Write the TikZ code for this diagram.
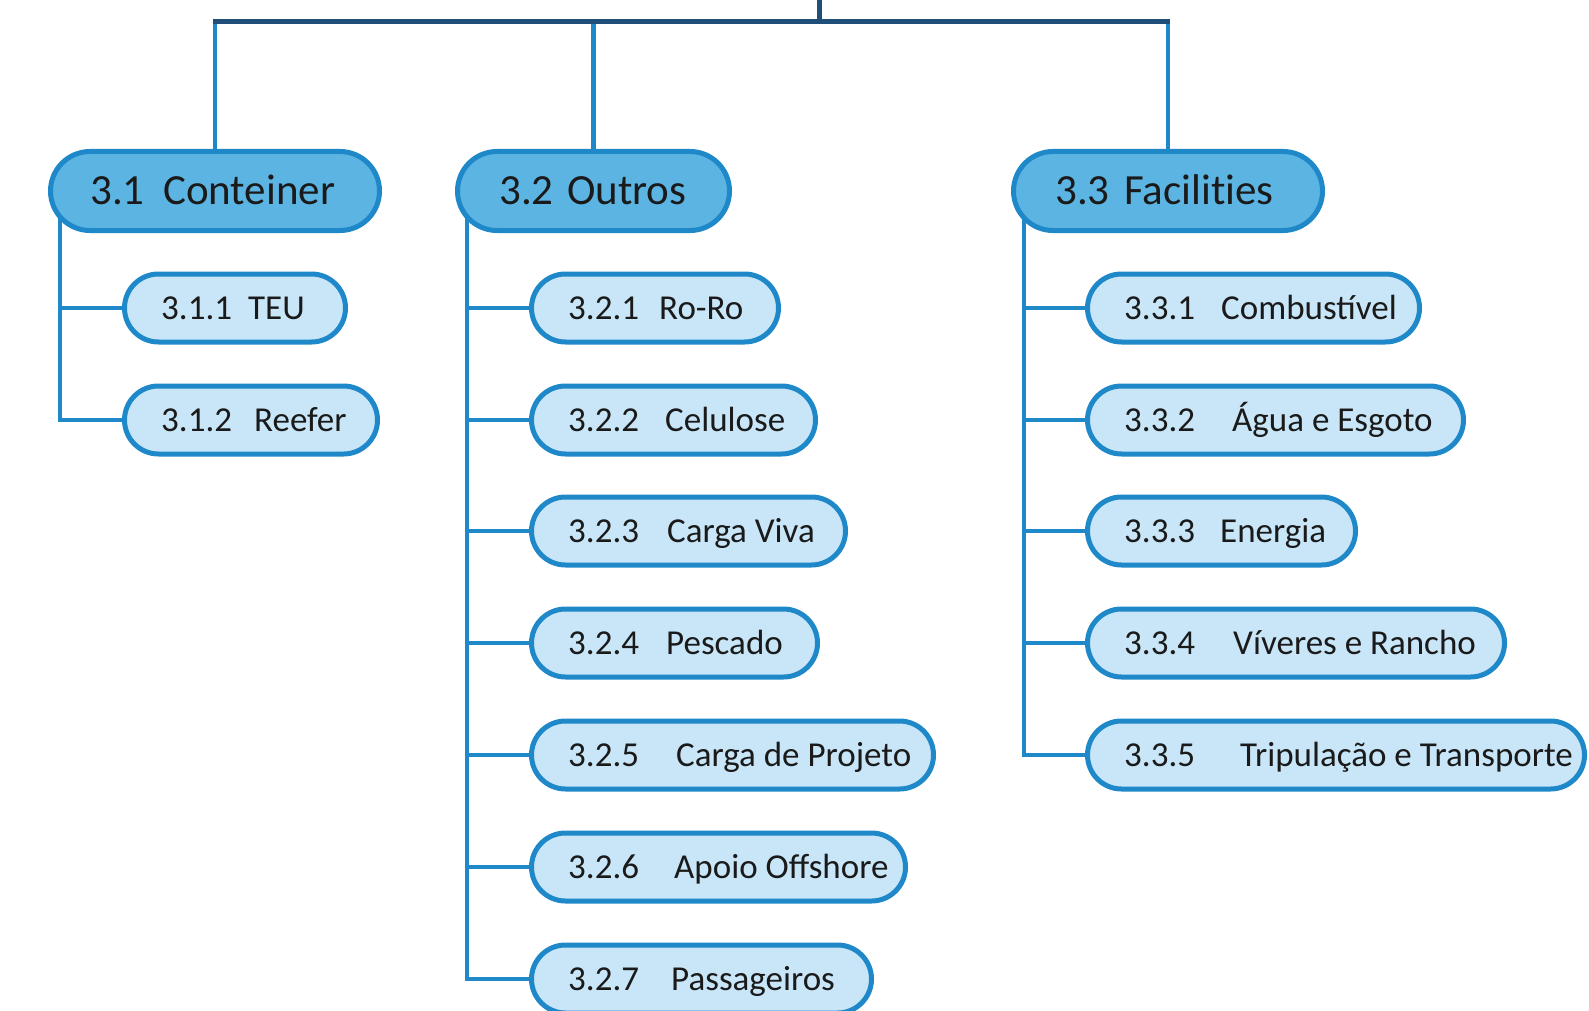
\documentclass[tikz,border=0pt]{standalone}
\usepackage{fontspec}
\setmainfont{Carlito}
\usetikzlibrary{backgrounds}
\definecolor{navy}{HTML}{1F4E79}
\definecolor{edgeblue}{HTML}{1E88C8}
\definecolor{topfill}{HTML}{5BB4E2}
\definecolor{leaffill}{HTML}{C8E6F8}
\definecolor{ink}{HTML}{1A1A1A}
\tikzset{
  topbox/.style={draw=edgeblue, line width=5pt, fill=topfill, rectangle, rounded corners=39.5pt, minimum height=79pt, inner sep=0pt},
  leafbox/.style={draw=edgeblue, line width=5pt, fill=leaffill, rectangle, rounded corners=34pt, minimum height=68pt, inner sep=0pt},
  toptxt/.style={anchor=west, inner sep=0pt, text=ink, font=\fontsize{43}{49}\selectfont, text height=27pt, text depth=0pt},
  leaftxt/.style={anchor=west, inner sep=0pt, text=ink, font=\fontsize{35}{40}\selectfont, text height=22pt, text depth=0pt},
  conn/.style={draw=edgeblue, line width=4.5pt},
  rootconn/.style={draw=navy, line width=5pt}
}
\newcommand\leafnode[7]{%
  \node[leafbox, minimum width=#4pt] (#1) at (#2,#3) {};
  \node[leaftxt] (#1num) at ([xshift=39pt]#1.west) {#5};
  \node[leaftxt] (#1lab) at ([xshift=#6pt]#1.west) {#7};
}
\newcommand\topnode[8]{%
  \node[topbox, minimum width=#4pt] (#1) at (#2,#3) {};
  \node[toptxt] (#1num) at ([xshift=#5pt]#1.west) {#6};
  \node[toptxt] (#1lab) at ([xshift=#7pt]#1.west) {#8};
}
\begin{document}
\begin{tikzpicture}[x=1pt,y=-1pt]
\useasboundingbox (0,0) rectangle (1589,1011);
% level 1
\topnode{n31}{215}{191}{329}{42}{3.1}{115}{Conteiner}
\topnode{n32}{593.5}{191}{272}{44}{3.2}{112}{Outros}
\topnode{n33}{1168}{191}{309}{44}{3.3}{113}{Facili\hbox{}t\hbox{}ies}
% level 2
\leafnode{n311}{235}{308}{221}{3.1.1}{126}{TEU}
\leafnode{n312}{251}{420}{253}{3.1.2}{132}{Reefer}
\leafnode{n321}{655}{308}{247}{3.2.1}{130}{Ro-Ro}
\leafnode{n322}{673.5}{420}{284}{3.2.2}{136}{Celulose}
\leafnode{n323}{688.5}{531}{314}{3.2.3}{138}{Carga Viva}
\leafnode{n324}{674.5}{643}{286}{3.2.4}{137}{Pescado}
\leafnode{n325}{732.5}{755}{402}{3.2.5}{147}{Carga de Projeto}
\leafnode{n326}{718.5}{867}{374}{3.2.6}{145}{Apoio Offshore}
\leafnode{n327}{701.5}{979}{340}{3.2.7}{142}{Passageiros}
\leafnode{n331}{1253.5}{308}{332}{3.3.1}{136}{Combustível}
\leafnode{n332}{1275.5}{420}{376}{3.3.2}{147}{Água e Esgoto}
\leafnode{n333}{1221.5}{531}{268}{3.3.3}{135}{Energia}
\leafnode{n334}{1296}{643}{417}{3.3.4}{148}{Víveres e Rancho}
\leafnode{n335}{1336}{755}{497}{3.3.5}{155}{Tripulação e Transporte}
% root connectors
\coordinate (root) at (819,0);
\coordinate (bar) at (819,22);
\begin{scope}[on background layer]
  \draw[conn] (n31.north |- bar) -- (n31.north);
  \draw[conn] (n32.north |- bar) -- (n32.north);
  \draw[conn] (n33.north |- bar) -- (n33.north);
  \draw[rootconn] (root) -- (bar);
  \draw[rootconn] ([xshift=-2pt]n31.north |- bar) -- ([xshift=2pt]n33.north |- bar);
  \foreach \c in {n311,n312}{\draw[conn] ([xshift=12pt]n31.west) |- (\c.west);}
  \foreach \c in {n321,n322,n323,n324,n325,n326,n327}{\draw[conn] ([xshift=12pt]n32.west) |- (\c.west);}
  \foreach \c in {n331,n332,n333,n334,n335}{\draw[conn] ([xshift=13pt]n33.west) |- (\c.west);}
\end{scope}
\end{tikzpicture}
\end{document}
